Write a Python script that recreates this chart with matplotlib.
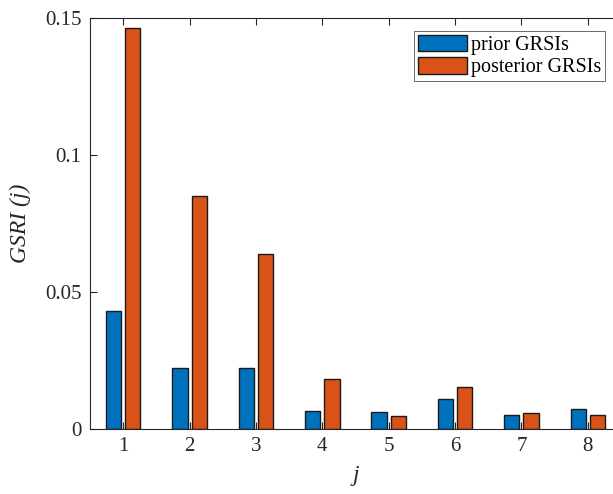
import matplotlib
matplotlib.use("Agg")
import matplotlib.pyplot as plt
import numpy as np

categories = [1, 2, 3, 4, 5, 6, 7, 8]
prior = [0.0431, 0.0221, 0.0223, 0.0065, 0.0062, 0.0110, 0.0051, 0.0072]
posterior = [0.1462, 0.0852, 0.0637, 0.0184, 0.0046, 0.0155, 0.0059, 0.0051]
yticks = [0, 0.05, 0.1, 0.15]
yticklabels = ["0", "0.05", "0.1", "0.15"]

plt.rcParams['font.family'] = ['Liberation Serif', 'DejaVu Serif']
fig = plt.figure(figsize=(6.13, 4.94), dpi=100)
ax = fig.add_axes([90/613, 65/494, 531/613, 411/494])

x = np.array(categories, dtype=float)
w = 0.23
off = 0.145
ax.bar(x - off, prior, width=w, color='#0072BD', edgecolor='#1a1a1a', linewidth=1.0, label='prior GRSIs')
ax.bar(x + off, posterior, width=w, color='#D95319', edgecolor='#1a1a1a', linewidth=1.0, label='posterior GRSIs')

ax.set_xlim(0.5, 8.5)
ax.set_ylim(0, 0.15)
ax.set_xticks(categories)
ax.set_xticklabels([str(c) for c in categories])
ax.set_yticks(yticks)
ax.set_yticklabels(yticklabels)
ax.tick_params(direction='in', length=5, width=0.8, labelsize=15, colors='#262626',
               top=True, right=True, pad=6)
for s in ax.spines.values():
    s.set_color('#262626')
    s.set_linewidth(0.8)

ax.set_xlabel('j', fontsize=17, style='italic', color='#262626', labelpad=6)
ax.set_ylabel('GSRI (j)', fontsize=17, style='italic', color='#262626', labelpad=10)

leg = ax.legend(loc='upper right', bbox_to_anchor=(605/613, 1 - 31/494), bbox_transform=fig.transFigure,
                fontsize=14.5, frameon=True, fancybox=False, handlelength=2.4, handleheight=0.85,
                borderpad=0.2, labelspacing=0.12, handletextpad=0.2, borderaxespad=0)
leg.get_frame().set_edgecolor('#262626')
leg.get_frame().set_linewidth(0.6)

fig.savefig('out.png', dpi=100)
